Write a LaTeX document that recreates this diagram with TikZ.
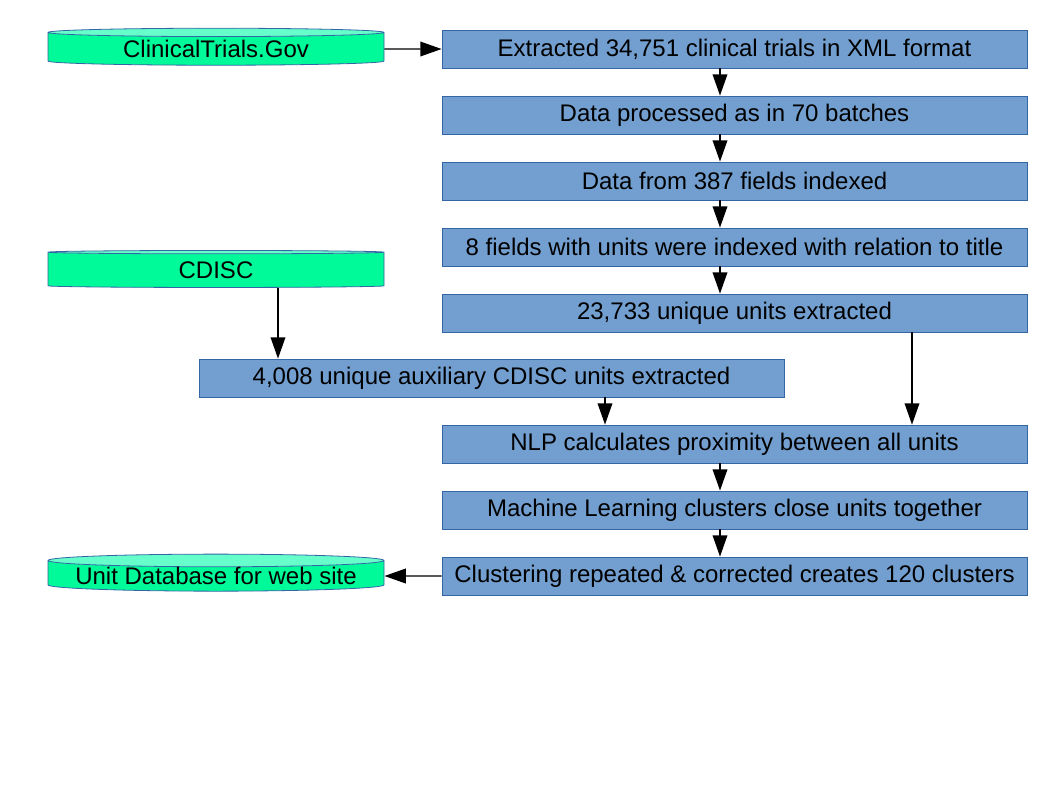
\documentclass[tikz,border=0pt]{standalone}
\usepackage{fontspec}
\setmainfont{Liberation Sans}
\usetikzlibrary{shapes.geometric,arrows.meta}
\definecolor{boxfill}{HTML}{729FCF}
\definecolor{boxline}{HTML}{3465A4}
\definecolor{dbbody}{HTML}{00FA9A}
\definecolor{dbtop}{HTML}{66FFCC}

\begin{document}
\begin{tikzpicture}[x=0.75pt, y=-0.75pt,
  every node/.style={font=\fontsize{18}{21}\selectfont},
  proc/.style={rectangle, draw=boxline, fill=boxfill, line width=0.6pt,
    minimum width=438.75pt, minimum height=28.5pt, inner sep=0pt},
  db/.style={cylinder, shape border rotate=90, shape aspect=0.045, draw=boxline,
    line width=0.6pt, cylinder uses custom fill, cylinder body fill=dbbody,
    cylinder end fill=dbtop, minimum width=252pt, minimum height=27.75pt, inner sep=0pt},
  flow/.style={line width=1.1pt, -{Triangle[length=16pt,width=11pt]}}]
  \useasboundingbox (0,0) rectangle (1058,794);

  % sources and result
  \node[db] (ct) at (216,49)  {ClinicalTrials.Gov};
  \node[db] (cd) at (216,270) {CDISC};
  \node[db] (ud) at (216,576) {Unit Database for web site};

  % main column
  \node[proc] (b1) at (734.5,49)  {Extracted 34,751 clinical trials in XML format};
  \node[proc] (b2) at (734.5,115) {Data processed as in 70 batches};
  \node[proc] (b3) at (734.5,181) {Data from 387 fields indexed};
  \node[proc] (b4) at (734.5,247) {8 fields with units were indexed with relation to title};
  \node[proc] (b5) at (734.5,313) {23,733 unique units extracted};
  \node[proc] (aux) at (491.5,378) {4,008 unique auxiliary CDISC units extracted};
  \node[proc] (b6) at (734.5,444) {NLP calculates proximity between all units};
  \node[proc] (b7) at (734.5,510) {Machine Learning clusters close units together};
  \node[proc] (b8) at (734.5,576) {Clustering repeated \& corrected creates 120 clusters};

  \coordinate (spine) at (720,0);
  \coordinate (cdx) at (278,0);
  \coordinate (auxx) at (605,0);
  \coordinate (unx) at (912,0);

  \path[flow]
  (ct) edge (b1)
  (b1.south -| spine) edge (b2.north -| spine)
  (b2.south -| spine) edge (b3.north -| spine)
  (b3.south -| spine) edge (b4.north -| spine)
  (b4.south -| spine) edge (b5.north -| spine)
  (cd.south -| cdx) edge (aux.north -| cdx)
  (aux.south -| auxx) edge (b6.north -| auxx)
  (b5.south -| unx) edge (b6.north -| unx)
  (b6.south -| spine) edge (b7.north -| spine)
  (b7.south -| spine) edge (b8.north -| spine)
  (b8) edge (ud)
  ;
\end{tikzpicture}
\end{document}
